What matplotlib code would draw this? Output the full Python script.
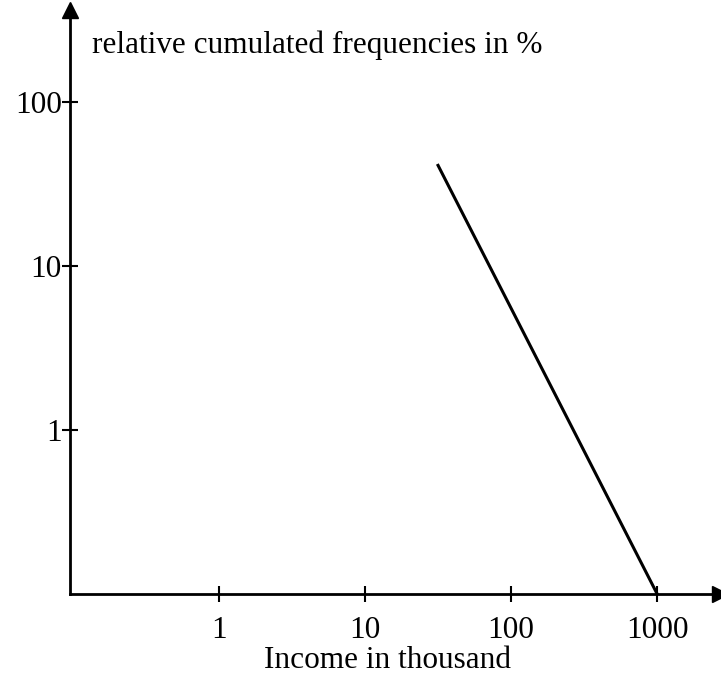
import matplotlib.pyplot as plt

# values
income = [31.6, 1000]
cum_freq = [41, 0.1]
x_ticks = [1, 10, 100, 1000]
y_ticks = [1, 10, 100]

plt.rcParams['font.family'] = ['Liberation Serif', 'DejaVu Serif']
plt.rcParams['font.size'] = 22.5

fig = plt.figure(figsize=(7.21, 6.75), dpi=100)
ax = fig.add_axes([70 / 721, 81 / 675, 650 / 721, 584 / 675])

ax.plot(income, cum_freq, color='black', lw=2.2)
ax.set_xscale('log')
ax.set_yscale('log')
ax.set_xlim(10 ** -1.02, 10 ** 3.43)
ax.set_ylim(10 ** -1.0, 10 ** 2.56)

ax.set_xticks(x_ticks)
ax.set_xticklabels([str(v) for v in x_ticks])
ax.set_yticks(y_ticks)
ax.set_yticklabels([str(v) for v in y_ticks])
ax.minorticks_off()
ax.tick_params(axis='both', direction='inout', length=12, width=1.5)
ax.tick_params(axis='x', pad=10)
ax.tick_params(axis='y', pad=0)

for side in ['top', 'right']:
    ax.spines[side].set_visible(False)
for side in ['left', 'bottom']:
    ax.spines[side].set_linewidth(2)

# arrow heads on the axes
ax.plot(1, 0, '>', color='black', ms=11, transform=ax.transAxes, clip_on=False)
ax.plot(0, 1, '^', color='black', ms=11, transform=ax.transAxes, clip_on=False)

ax.text(0.034, 0.94, 'relative cumulated frequencies in %',
        transform=ax.transAxes, va='center', ha='left')
fig.text(388 / 721, 15 / 675, 'Income in thousand', ha='center', va='center')

fig.savefig('out.png', dpi=100)
